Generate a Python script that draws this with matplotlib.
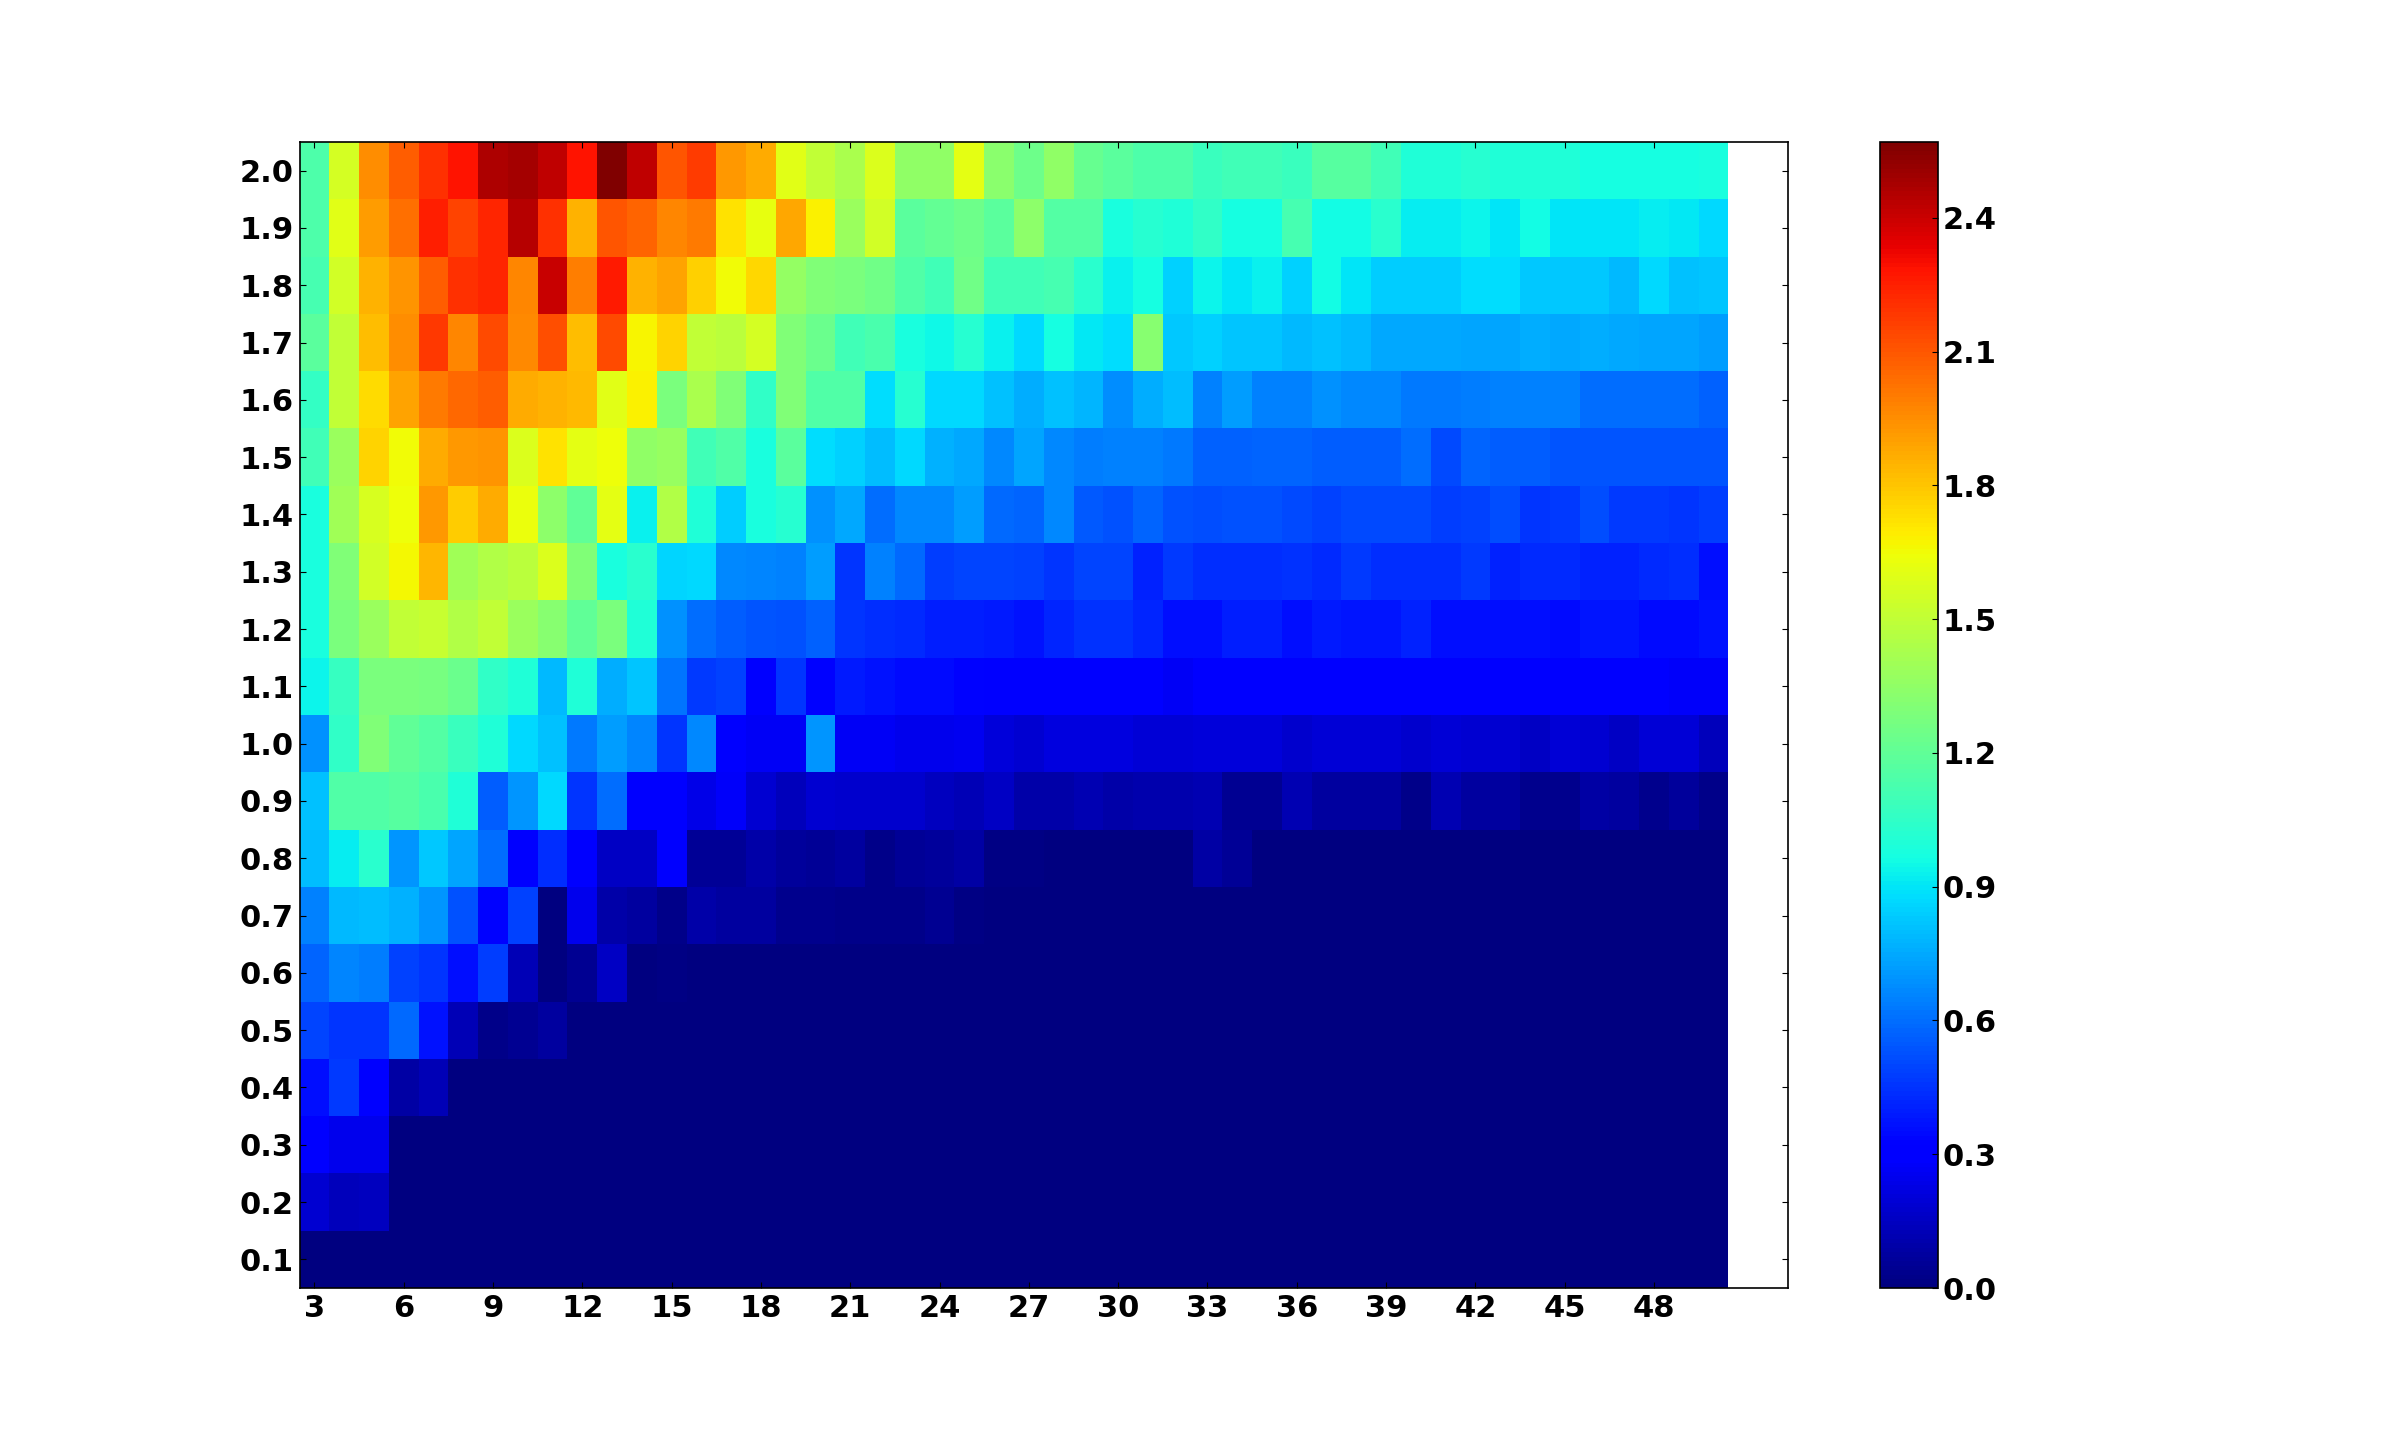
import matplotlib
matplotlib.use("Agg")
import matplotlib.pyplot as plt
import numpy as np

# columns are 3..50, rows are 0.1..2.0
col_values = list(range(3, 51))
row_values = [round(0.1 * i, 1) for i in range(1, 21)]
x_ticks = list(range(3, 49, 3))
cbar_ticks = [0.0, 0.3, 0.6, 0.9, 1.2, 1.5, 1.8, 2.1, 2.4]

row_01 = [0.0] * 48
row_02 = [0.19, 0.14, 0.15] + [0.0] * 45
row_03 = [0.29, 0.25, 0.25] + [0.0] * 45
row_04 = [0.36, 0.47, 0.31, 0.09, 0.13] + [0.0] * 43
row_05 = [0.5, 0.46, 0.46, 0.59, 0.37, 0.13, 0.03, 0.05, 0.08] + [0.0] * 39
row_06 = [0.58, 0.66, 0.64, 0.49, 0.46, 0.36, 0.48, 0.13, 0.0, 0.05, 0.16, 0.0, 0.02] + [0.0] * 35
row_07 = [0.65, 0.79, 0.8, 0.77, 0.7, 0.53, 0.33, 0.49, 0.01, 0.25, 0.1, 0.08, 0.03, 0.1, 0.08, 0.08,
          0.04, 0.04, 0.03, 0.03, 0.03, 0.05, 0.02] + [0.0] * 25
row_08 = [0.8, 0.92, 1.03, 0.7, 0.83, 0.74, 0.6, 0.3, 0.44, 0.29, 0.16, 0.16, 0.29, 0.06, 0.06, 0.1,
          0.07, 0.06, 0.08, 0.03, 0.06, 0.07, 0.09, 0.02, 0.02, 0.0, 0.0, 0.0, 0.0, 0.0,
          0.09, 0.06] + [0.0] * 16
row_09 = [0.81, 1.15, 1.15, 1.17, 1.13, 1.0, 0.56, 0.7, 0.87, 0.46, 0.6, 0.3, 0.29, 0.24, 0.28, 0.19,
          0.14, 0.19, 0.18, 0.18, 0.18, 0.15, 0.13, 0.16, 0.1,
          0.1, 0.12, 0.1, 0.11, 0.11, 0.12, 0.05, 0.05, 0.12, 0.08, 0.08, 0.08, 0.03, 0.12, 0.08,
          0.08, 0.04, 0.04, 0.09, 0.08, 0.04, 0.07, 0.03]
row_10 = [0.69, 1.05, 1.3, 1.2, 1.16, 1.08, 1.0, 0.87, 0.81, 0.63, 0.72, 0.66, 0.46, 0.67, 0.29, 0.27,
          0.27, 0.7, 0.27, 0.27, 0.25, 0.25, 0.26, 0.21, 0.19,
          0.22, 0.22, 0.22, 0.2, 0.2, 0.21, 0.21, 0.21, 0.18, 0.2, 0.2, 0.2, 0.18, 0.2, 0.19,
          0.19, 0.16, 0.2, 0.19, 0.16, 0.2, 0.2, 0.14]
row_11 = [0.94, 1.07, 1.28, 1.28, 1.27, 1.23, 1.05, 1.0, 0.79, 1.0, 0.76, 0.82, 0.62, 0.47, 0.49, 0.29,
          0.46, 0.33, 0.39, 0.37, 0.35, 0.35, 0.33, 0.3, 0.3,
          0.29, 0.29, 0.29, 0.29, 0.27, 0.29, 0.29, 0.29, 0.29, 0.29, 0.29, 0.29, 0.29, 0.29, 0.29,
          0.29, 0.29, 0.29, 0.29, 0.29, 0.29, 0.28, 0.28]
row_12 = [0.98, 1.28, 1.38, 1.5, 1.52, 1.45, 1.5, 1.38, 1.32, 1.2, 1.28, 1.0, 0.69, 0.6, 0.56, 0.54,
          0.53, 0.57, 0.46, 0.44, 0.43, 0.4, 0.4, 0.39, 0.37,
          0.42, 0.45, 0.45, 0.42, 0.36, 0.36, 0.4, 0.4, 0.36, 0.39, 0.38, 0.38, 0.41, 0.36, 0.36,
          0.36, 0.36, 0.35, 0.38, 0.38, 0.35, 0.35, 0.37]
row_13 = [0.98, 1.3, 1.55, 1.66, 1.84, 1.4, 1.45, 1.48, 1.58, 1.3, 0.98, 1.03, 0.86, 0.87, 0.67, 0.66,
          0.65, 0.72, 0.46, 0.65, 0.59, 0.48, 0.5, 0.5, 0.49,
          0.46, 0.5, 0.5, 0.41, 0.47, 0.44, 0.44, 0.44, 0.45, 0.43, 0.47, 0.44, 0.44, 0.44, 0.47,
          0.41, 0.43, 0.43, 0.41, 0.41, 0.43, 0.44, 0.36]
row_14 = [0.98, 1.4, 1.57, 1.64, 1.92, 1.78, 1.87, 1.63, 1.34, 1.2, 1.61, 0.93, 1.45, 1.0, 0.84, 0.98,
          1.02, 0.69, 0.75, 0.6, 0.67, 0.67, 0.72, 0.59, 0.58,
          0.67, 0.55, 0.53, 0.58, 0.53, 0.52, 0.53, 0.53, 0.51, 0.49, 0.51, 0.51, 0.51, 0.48, 0.49,
          0.52, 0.46, 0.47, 0.52, 0.47, 0.47, 0.46, 0.48]
row_15 = [1.1, 1.38, 1.76, 1.65, 1.87, 1.92, 1.93, 1.58, 1.72, 1.61, 1.64, 1.35, 1.37, 1.1, 1.15, 0.98,
          1.18, 0.88, 0.85, 0.8, 0.87, 0.77, 0.75, 0.67, 0.74,
          0.67, 0.64, 0.65, 0.65, 0.63, 0.57, 0.57, 0.58, 0.58, 0.56, 0.56, 0.56, 0.6, 0.51, 0.58,
          0.56, 0.56, 0.54, 0.54, 0.54, 0.54, 0.54, 0.54]
row_16 = [1.06, 1.5, 1.74, 1.89, 2.0, 2.05, 2.08, 1.87, 1.85, 1.83, 1.6, 1.68, 1.28, 1.43, 1.3, 1.05,
          1.3, 1.15, 1.15, 0.88, 1.02, 0.87, 0.87, 0.81, 0.76,
          0.81, 0.78, 0.68, 0.76, 0.8, 0.65, 0.72, 0.65, 0.65, 0.69, 0.67, 0.67, 0.63, 0.63, 0.64,
          0.65, 0.65, 0.65, 0.6, 0.6, 0.6, 0.6, 0.57]
row_17 = [1.18, 1.5, 1.82, 1.95, 2.18, 1.97, 2.13, 1.96, 2.12, 1.82, 2.13, 1.67, 1.76, 1.5, 1.48, 1.56,
          1.3, 1.23, 1.1, 1.13, 0.98, 0.95, 1.02, 0.93, 0.87,
          0.97, 0.91, 0.88, 1.32, 0.83, 0.85, 0.82, 0.82, 0.79, 0.81, 0.79, 0.75, 0.75, 0.75, 0.74,
          0.74, 0.76, 0.75, 0.76, 0.75, 0.74, 0.74, 0.72]
row_18 = [1.12, 1.55, 1.85, 1.93, 2.08, 2.2, 2.23, 1.97, 2.4, 1.99, 2.26, 1.85, 1.89, 1.77, 1.65, 1.75,
          1.36, 1.3, 1.28, 1.25, 1.15, 1.1, 1.25, 1.1, 1.1,
          1.12, 1.03, 0.93, 0.97, 0.85, 0.94, 0.9, 0.93, 0.85, 0.96, 0.9, 0.84, 0.84, 0.84, 0.88,
          0.88, 0.83, 0.83, 0.83, 0.79, 0.87, 0.81, 0.82]
row_19 = [1.14, 1.6, 1.91, 2.03, 2.25, 2.15, 2.23, 2.44, 2.2, 1.85, 2.1, 2.06, 1.97, 2.0, 1.72, 1.62,
          1.88, 1.68, 1.38, 1.55, 1.18, 1.21, 1.24, 1.18, 1.34,
          1.16, 1.16, 0.98, 1.02, 1.0, 1.05, 0.97, 0.97, 1.12, 0.96, 0.96, 1.03, 0.92, 0.92, 0.94,
          0.9, 0.96, 0.9, 0.9, 0.9, 0.92, 0.91, 0.87]
row_20 = [1.14, 1.56, 1.95, 2.08, 2.2, 2.28, 2.46, 2.48, 2.42, 2.28, 2.57, 2.42, 2.1, 2.17, 1.92, 1.87,
          1.6, 1.5, 1.43, 1.58, 1.35, 1.35, 1.61, 1.33, 1.24,
          1.35, 1.22, 1.18, 1.14, 1.14, 1.08, 1.1, 1.1, 1.08, 1.17, 1.17, 1.1, 1.0, 1.0, 1.02,
          1.0, 1.0, 1.0, 0.97, 0.97, 0.97, 0.97, 0.98]

grid = np.array([
    row_01, row_02, row_03, row_04, row_05, row_06, row_07, row_08, row_09, row_10,
    row_11, row_12, row_13, row_14, row_15, row_16, row_17, row_18, row_19, row_20,
])

W, H = 2400, 1432
fig = plt.figure(figsize=(W / 200, H / 200), dpi=200, facecolor="white")
ax = fig.add_axes([299.5 / W, 1 - 1288 / H, (1788 - 299.5) / W, (1288 - 142) / H])

# half-cell edges around the column and row values
x_edges = np.append(np.array(col_values) - 0.5, col_values[-1] + 0.5)
y_edges = np.append(np.array(row_values) - 0.05, row_values[-1] + 0.05)
mesh = ax.pcolormesh(x_edges, y_edges, grid, cmap="jet", vmin=0.0, vmax=2.57, linewidth=0, rasterized=True)

ax.set_xlim(2.5, 52.5)
ax.set_ylim(0.05, 2.05)
ax.set_xticks(x_ticks)
ax.set_yticks(row_values)
ax.set_yticklabels([f"{v:.1f}" for v in row_values])
ax.tick_params(direction="in", top=True, right=True, length=2, width=0.4, pad=2.0, labelsize=11)
for lab in ax.get_xticklabels() + ax.get_yticklabels():
    lab.set_fontweight("bold")
for spine in ax.spines.values():
    spine.set_linewidth(0.6)

cax = fig.add_axes([1880 / W, 1 - 1288 / H, (1938 - 1880) / W, (1288 - 142) / H])
cbar = fig.colorbar(mesh, cax=cax, ticks=cbar_ticks)
cbar.ax.set_yticklabels([f"{v:.1f}" for v in cbar_ticks])
cbar.ax.tick_params(direction="in", length=2, width=0.4, pad=1.6, labelsize=11)
for lab in cbar.ax.get_yticklabels():
    lab.set_fontweight("bold")
cbar.outline.set_linewidth(0.6)

fig.savefig("out.png", dpi=200, facecolor="white")
